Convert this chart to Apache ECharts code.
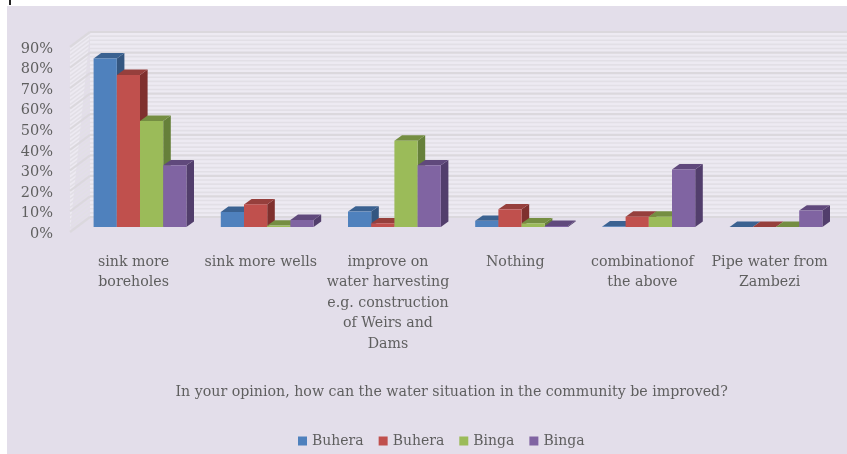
<!DOCTYPE html>
<html>
<head>
<meta charset="utf-8">
<style>html,body{margin:0;padding:0;background:#fff}#c{width:847px;height:454px;filter:blur(0.45px)}</style>
<script src="https://cdn.jsdelivr.net/npm/echarts@6/dist/echarts.min.js"></script>
</head>
<body>
<div id="c"></div>
<script>
const categories = ['sink more\nboreholes','sink more wells','improve on\nwater harvesting\ne.g. construction\nof Weirs and\nDams','Nothing','combinationof\nthe above','Pipe water from\nZambezi'];
const s1 = [82, 7.3, 7.5, 3, 0.3, 0];
const s2 = [74, 11, 1.8, 8.6, 5, 0];
const s3 = [51.6, 0.7, 42, 1.8, 5, 0];
const s4 = [30, 3.4, 30, 0.5, 28, 8];
const seriesNames = ['Buhera','Buhera ','Binga','Binga '];
const front = ['#4f81bd','#c0504d','#9bbb59','#8064a2'];
const topFace = ['#3b6291','#963f3c','#758e42','#60497c'];
const sideFace = ['#345680','#7f302e','#66803a','#523e6c'];
const wallTicks = [0,2,4,6,8,10,12,14,16,18,20,22,24,26,28,30,32,34,36,38,40,42,44,46,48,50,52,54,56,58,60,62,64,66,68,70,72,74,76,78,80,82,84,86,88,90];
const barOffset = [6.4,-5], barDepth = [7.6,-5.4], wallDepth = [20,-15], barW = 23.2;
const font = '"DejaVu Serif"';
const textColor = '#5f5f5f';

function barRender(i){
  return function(params, api){
    const cat = api.value(0), v = api.value(1);
    const top = api.coord([cat, v]), base = api.coord([cat, 0]);
    const x0 = top[0] + (i-2)*barW + barOffset[0], x1 = x0 + barW;
    const yT = top[1] + barOffset[1], yB = base[1] + barOffset[1];
    const dx = barDepth[0], dy = barDepth[1];
    return {type:'group', children:[
      {type:'polygon', shape:{points:[[x1,yB],[x1+dx,yB+dy],[x1+dx,yT+dy],[x1,yT]]}, style:{fill:sideFace[i]}},
      {type:'polygon', shape:{points:[[x0,yT],[x0+dx,yT+dy],[x1+dx,yT+dy],[x1,yT]]}, style:{fill:topFace[i]}},
      {type:'rect', shape:{x:x0,y:yT,width:barW,height:yB-yT}, style:{fill:front[i]}}
    ]};
  };
}
function wallRender(params, api){
  const v = api.value(0);
  const y = api.coord([0, v])[1];
  const cs = params.coordSys;
  const major = v % 10 === 0;
  const st = {stroke: major ? '#dbd8dd' : '#e2dfe6', lineWidth: major ? 2.2 : 1.6};
  const x0 = cs.x, x1 = cs.x + wallDepth[0], x2 = cs.x + cs.width + wallDepth[0];
  const y1 = y + wallDepth[1];
  return {type:'group', children:[
    {type:'line', shape:{x1:x0,y1:y,x2:x1,y2:y1}, style:st},
    {type:'line', shape:{x1:x1,y1:y1,x2:x2,y2:y1}, style:st}
  ]};
}
function wallBack(params, api){
  const cs = params.coordSys;
  const yT = api.coord([0,90])[1], yB = api.coord([0,0])[1];
  const x0 = cs.x, x1 = cs.x + wallDepth[0], x2 = cs.x + cs.width + wallDepth[0], d = wallDepth[1];
  return {type:'polygon', shape:{points:[[x0,yB],[x1,yB+d],[x1,yT+d],[x2,yT+d],[x2,yB+d],[x1,yB+d],[x0,yB],[x0,yT],[x1,yT+d]]}, style:{fill:'#edeaf2'}};
}
const seriesData = [s1,s2,s3,s4];
const chart = echarts.init(document.getElementById('c'), null, {renderer:'canvas'});
chart.setOption({
  animation:false,
  backgroundColor:'#ffffff',
  graphic:[
    {type:'rect', z:-10, shape:{x:7,y:6,width:840,height:448}, style:{fill:'#e3deea'}},
    {type:'rect', z:-9, shape:{x:9,y:0,width:2,height:5}, style:{fill:'#222'}}
  ],
  grid:{left:70, top:47, width:763.2, height:185},
  legend:{
    left:293, top:429, itemWidth:9, itemHeight:9, itemGap:15, icon:'rect',
    data:seriesNames,
    formatter:n=>n.trim(),
    textStyle:{fontFamily:font, fontSize:14, color:textColor}
  },
  xAxis:{
    type:'category', data:categories,
    axisLine:{show:false}, axisTick:{show:false}, splitLine:{show:false},
    axisLabel:{interval:0, margin:20, fontFamily:font, fontSize:14.2, color:textColor, lineHeight:20.5},
    name:'In your opinion, how can the water situation in the community be improved?',
    nameLocation:'middle', nameGap:153,
    nameTextStyle:{fontFamily:font, fontSize:14.2, color:textColor}
  },
  yAxis:{
    type:'value', min:0, max:90, interval:10,
    axisLine:{show:false}, axisTick:{show:false}, splitLine:{show:false},
    axisLabel:{formatter:'{value}%', margin:17, fontFamily:font, fontSize:14.5, color:textColor, verticalAlign:'top', lineHeight:4}
  },
  series:[
    {type:'custom', silent:true, z:1, clip:false, data:[[0]], renderItem:wallBack, encode:{x:0}},
    {type:'custom', silent:true, z:1, clip:false, data:wallTicks.map(v=>[v]), renderItem:wallRender, encode:{y:0}},
    ...seriesData.map((d,i)=>({
      type:'custom', name:seriesNames[i], z:3, clip:false,
      itemStyle:{color:front[i]},
      data:d.map((v,c)=>[c,v]), renderItem:barRender(i), encode:{x:0,y:1}
    }))
  ]
});
</script>
</body>
</html>
